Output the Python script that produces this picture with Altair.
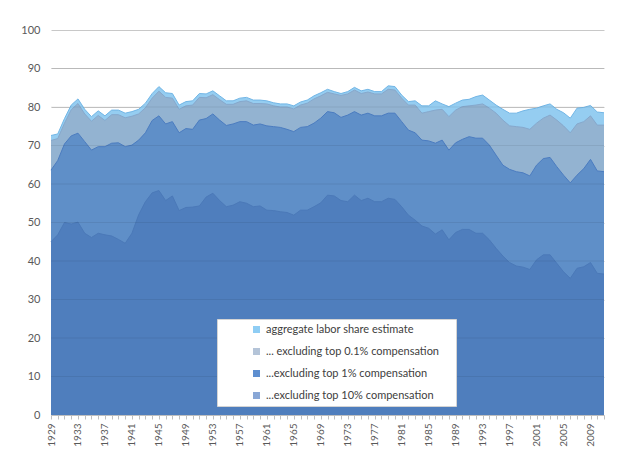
import altair as alt
import pandas as pd

years = list(range(1929, 2012))

aggregate = [72.6, 73.0, 77.0, 80.5, 82.1, 79.4, 77.5, 79.0, 77.7, 79.2, 79.2, 78.4, 78.8, 79.4, 81.0,
             83.5, 85.3, 83.7, 83.5, 80.5, 81.4, 81.6, 83.5, 83.4, 84.2, 82.9, 81.6, 81.6, 82.3, 82.5,
             81.8, 81.8, 81.6, 81.1, 80.8, 80.8, 80.3, 81.3, 81.8, 82.9, 83.7, 84.6, 84.0, 83.5, 84.0,
             85.1, 84.2, 84.6, 84.0, 84.0, 85.5, 85.3, 83.1, 81.4, 81.6, 80.3, 80.3, 81.6, 80.8, 80.1,
             81.0, 81.8, 82.0, 82.7, 83.1, 81.8, 80.5, 79.4, 78.4, 78.4, 79.0, 79.4, 79.7, 80.3, 80.8,
             79.4, 78.5, 77.1, 79.7, 79.9, 80.4, 78.7, 78.5]

excl_top01 = [71.3, 71.8, 75.8, 79.3, 80.9, 78.2, 76.3, 77.8, 76.5, 78.0, 78.0, 77.2, 77.6, 78.2, 79.8,
              82.3, 84.1, 82.5, 82.3, 79.4, 80.3, 80.5, 82.5, 82.4, 83.2, 81.9, 80.7, 80.7, 81.4, 81.6,
              80.9, 80.9, 80.8, 80.3, 80.0, 80.0, 79.5, 80.5, 81.0, 82.1, 82.9, 83.8, 83.4, 83.0, 83.4,
              84.4, 83.5, 83.9, 83.4, 83.4, 84.6, 84.4, 82.3, 80.5, 80.5, 78.4, 78.8, 79.2, 79.4, 77.5,
              79.2, 80.1, 80.3, 80.5, 80.8, 79.7, 78.4, 76.6, 75.1, 74.9, 74.7, 74.2, 75.8, 77.1, 77.9,
              76.6, 75.1, 73.3, 75.6, 76.2, 77.7, 75.3, 75.3]

excl_top1 = [63.6, 66.1, 70.4, 72.5, 73.2, 71.0, 68.8, 69.7, 69.7, 70.6, 70.7, 69.7, 70.1, 71.4, 73.3,
             76.5, 77.7, 75.6, 76.2, 73.3, 74.4, 74.2, 76.6, 77.0, 78.2, 76.6, 75.2, 75.6, 76.2, 76.2,
             75.3, 75.6, 75.1, 74.9, 74.7, 74.2, 73.6, 74.7, 74.9, 75.8, 77.1, 78.8, 78.5, 77.3, 77.9,
             78.8, 77.9, 78.4, 77.7, 77.7, 78.4, 78.4, 76.2, 74.0, 73.3, 71.4, 71.2, 70.6, 71.4, 68.8,
             70.7, 71.6, 72.3, 71.9, 71.9, 70.1, 67.5, 64.9, 63.8, 63.2, 62.9, 62.1, 64.9, 66.6, 66.9,
             64.5, 62.3, 60.3, 62.3, 64.0, 66.4, 63.4, 63.2]

excl_top10 = [45.0, 46.8, 50.0, 49.6, 50.1, 47.2, 46.1, 47.2, 46.8, 46.5, 45.6, 44.6, 47.2, 52.0, 55.4,
              57.7, 58.3, 55.7, 56.9, 53.1, 53.9, 54.0, 54.3, 56.6, 57.6, 55.7, 54.1, 54.5, 55.4, 55.0,
              54.1, 54.3, 53.2, 53.1, 52.8, 52.6, 51.9, 53.2, 53.2, 54.1, 55.1, 57.1, 56.9, 55.7, 55.4,
              57.1, 55.7, 56.3, 55.4, 55.4, 56.3, 56.0, 54.1, 51.9, 50.6, 49.1, 48.5, 47.0, 48.1, 45.5,
              47.4, 48.2, 48.2, 47.2, 47.2, 45.5, 43.3, 41.3, 39.6, 38.7, 38.4, 37.8, 40.3, 41.6, 41.6,
              39.4, 37.2, 35.5, 38.1, 38.5, 39.6, 36.8, 36.6]

series_names = ["aggregate labor share estimate",
                "... excluding top 0.1% compensation",
                "...excluding top 1% compensation",
                "...excluding top 10% compensation"]
series_values = [aggregate, excl_top01, excl_top1, excl_top10]

area_colors = ["#95cdf1", "#93b3d1", "#5f8fc8", "#4f7ebd"]
edge_colors = ["#72b6e6", "#86a8cc", "#4b7cc0", "#4b79b8"]
swatch_colors = ["#8fcdf4", "#b4c4d8", "#5e8fd0", "#89a7d6"]
y_ticks = [0, 10, 20, 30, 40, 50, 60, 70, 80, 90, 100]

rows = []
for name, vals in zip(series_names, series_values):
    for yr, v in zip(years, vals):
        rows.append({"year": yr, "value": v, "series": name})
df = pd.DataFrame(rows)

FONT = "Lato"

x_axis = alt.Axis(values=years, title=None, grid=False,
                  labelExpr="(datum.value - 1929) % 4 == 0 ? '' + datum.value : ''",
                  labelAngle=270, labelFontSize=10, labelColor="#595959", labelFont=FONT,
                  labelPadding=4, labelOverlap=False, labelBound=False, labelFlush=False,
                  domainColor="#bfbfbf", tickColor="#bfbfbf", tickSize=4)
y_axis = alt.Axis(values=y_ticks, title=None, grid=True, gridColor="#c8c8c8",
                  domain=False, ticks=False, labelPadding=11, labelFontSize=11,
                  labelOverlap=False, labelColor="#595959", labelFont=FONT,
                  minExtent=43, maxExtent=43)
x_scale = alt.Scale(domain=[1929, 2011], nice=False, zero=False)
y_scale = alt.Scale(domain=[0, 100], nice=False)

x_enc = alt.X("year:Q", scale=x_scale, axis=x_axis)
y_enc = alt.Y("value:Q", scale=y_scale, axis=y_axis)

layers = []
for name, fill, edge in zip(series_names, area_colors, edge_colors):
    layers.append(alt.Chart(df).transform_filter(alt.datum.series == name)
                  .mark_area(color=fill, opacity=1).encode(x=x_enc, y=y_enc))
    layers.append(alt.Chart(df).transform_filter(alt.datum.series == name)
                  .mark_line(color=edge, strokeWidth=1).encode(x=x_enc, y=y_enc))

grid_df = pd.DataFrame({"v": y_ticks[1:-1]})
overlay_grid = alt.Chart(grid_df).mark_rule(color="#000000", opacity=0.07, strokeWidth=1).encode(
    y=alt.Y("v:Q", scale=y_scale, axis=y_axis))

legend_layer = alt.Chart(df).transform_filter("datum.year < 0").mark_area().encode(
    x=x_enc, y=y_enc,
    color=alt.Color("series:N",
                    scale=alt.Scale(domain=series_names, range=swatch_colors),
                    legend=alt.Legend(title="\u00a0", titleOrient="right", titlePadding=12,
                                      titleFontSize=11, titleFont=FONT,
                                      orient="none", legendX=166, legendY=289,
                                      fillColor="white", strokeColor="#d4d4d4", padding=5,
                                      symbolType="square", symbolSize=49, symbolOffset=29,
                                      symbolStrokeWidth=0, labelFontSize=11, labelFont=FONT,
                                      labelColor="#404040", rowPadding=10, labelOffset=4,
                                      labelLimit=400)))

chart = alt.layer(*layers, overlay_grid, legend_layer).properties(
    width=553, height=385,
    padding={"left": 0, "top": 16, "right": 5, "bottom": 5},
).configure_view(stroke=None)

chart.save("out.html", embed_options={"renderer": "svg", "actions": False})
